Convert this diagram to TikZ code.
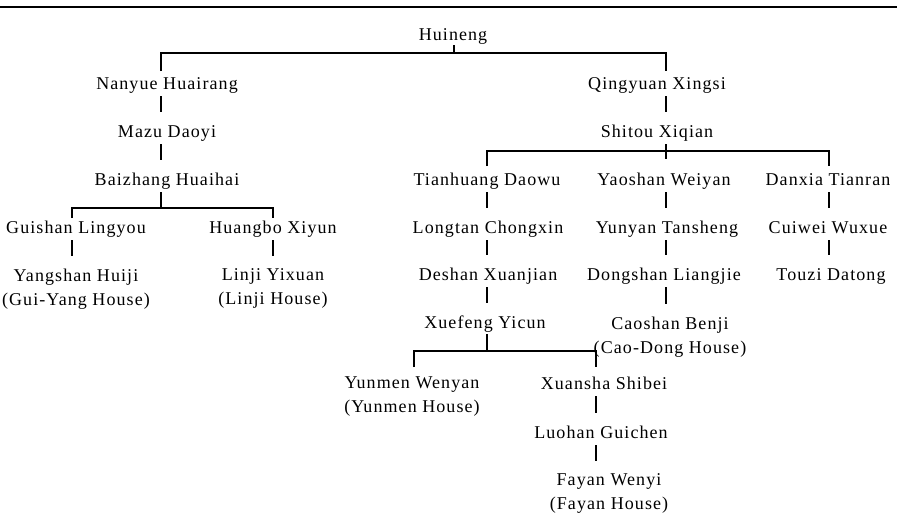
\documentclass[tikz,border=0pt]{standalone}
\usepackage{fontspec}
\setmainfont{Liberation Serif}[LetterSpace=6]
\begin{document}
\begin{tikzpicture}[x=0.75pt,y=-0.75pt,
  font=\fontsize{13.5}{18}\selectfont,
  nm/.style={inner sep=0pt, outer sep=0pt, anchor=north, text height=9pt, text depth=3.75pt},
  nmtwo/.style={inner sep=0pt, outer sep=0pt, anchor=north, align=center},
  wire/.style={line width=0.9pt, draw=black},
  linkv/.style={wire, shorten <=1.5pt, shorten >=9.75pt}]
\useasboundingbox (0,0) rectangle (897,526);
\draw[line width=1.1pt] (0,7) -- (897,7);
% columns
\coordinate (c72) at (72,0);
\coordinate (c161) at (161,0);
\coordinate (c273) at (273,0);
\coordinate (c414) at (414,0);
\coordinate (c487) at (487,0);
\coordinate (c596) at (596,0);
\coordinate (c666) at (666,0);
\coordinate (c829) at (829,0);
% bar junctions
\coordinate (hb) at (454,53);
\coordinate (bb) at (161,208);
\coordinate (sb) at (666,151);
\coordinate (xb) at (487,351);
% nodes
\node[nm] (hui) at (453,28) {Huineng};
\node[nm] (nan) at (167,77) {Nanyue Huairang};
\node[nm] (qing) at (657,77) {Qingyuan Xingsi};
\node[nm] (mazu) at (167,125) {Mazu Daoyi};
\node[nm] (shi) at (657,125) {Shitou Xiqian};
\node[nm] (bai) at (167,173) {Baizhang Huaihai};
\node[nm] (tian) at (487,173) {Tianhuang Daowu};
\node[nm] (yao) at (664,173) {Yaoshan Weiyan};
\node[nm] (dan) at (828,173) {Danxia Tianran};
\node[nm] (gui) at (76,221) {Guishan Lingyou};
\node[nm] (huang) at (273,221) {Huangbo Xiyun};
\node[nm] (long) at (488,221) {Longtan Chongxin};
\node[nm] (yun) at (667,221) {Yunyan Tansheng};
\node[nm] (cui) at (828,221) {Cuiwei Wuxue};
\node[nmtwo] (yang) at (76,269) {Yangshan Huiji\\(Gui-Yang House)};
\node[nmtwo] (linji) at (273,269) {Linji Yixuan\\(Linji House)};
\node[nm] (de) at (488,268) {Deshan Xuanjian};
\node[nm] (dong) at (664,268) {Dongshan Liangjie};
\node[nm] (tou) at (831,268) {Touzi Datong};
\node[nm] (xue) at (485,316) {Xuefeng Yicun};
\node[nmtwo] (cao) at (670,317) {Caoshan Benji\\(Cao-Dong House)};
\node[nmtwo] (ym) at (412,377) {Yunmen Wenyan\\(Yunmen House)};
\node[nm] (xuan) at (604,377) {Xuansha Shibei};
\node[nm] (luo) at (601,426) {Luohan Guichen};
\node[nmtwo] (fa) at (609,474) {Fayan Wenyi\\(Fayan House)};
% Huineng branch
\draw[wire] (hui.south -| hb) -- (hb);
\draw[wire, shorten <=4.5pt, shorten >=4.5pt] (nan.north -| c161) |- (hb) -| (qing.north -| c666);
% left lineage
\draw[linkv] (nan.south -| c161) -- (mazu.north -| c161);
\draw[linkv] (mazu.south -| c161) -- (bai.north -| c161);
\draw[wire, shorten <=1.5pt] (bai.south -| c161) -- (bb);
\draw[wire, shorten <=2.25pt, shorten >=2.25pt] (gui.north -| c72) |- (bb) -| (huang.north -| c273);
\draw[linkv] (gui.south -| c72) -- (yang.north -| c72);
\draw[linkv] (huang.south -| c273) -- (linji.north -| c273);
% right lineage
\draw[linkv] (qing.south -| c666) -- (shi.north -| c666);
\draw[linkv, shorten >=10.5pt] (shi.south -| c666) -- (yao.north -| c666);
\draw[wire, shorten <=5.25pt, shorten >=5.25pt] (tian.north -| c487) |- (sb) -| (dan.north -| c829);
\draw[linkv] (tian.south -| c487) -- (long.north -| c487);
\draw[linkv] (long.south -| c487) -- (de.north -| c487);
\draw[linkv] (de.south -| c487) -- (xue.north -| c487);
\draw[linkv] (yao.south -| c666) -- (yun.north -| c666);
\draw[linkv] (yun.south -| c666) -- (dong.north -| c666);
\draw[linkv] (dong.south -| c666) -- (cao.north -| c666);
\draw[linkv] (dan.south -| c829) -- (cui.north -| c829);
\draw[linkv] (cui.south -| c829) -- (tou.north -| c829);
\draw[wire, shorten <=0.75pt] (xue.south -| c487) -- (xb);
\draw[wire, shorten <=7.5pt, shorten >=7.5pt] (ym.north -| c414) |- (xb) -| (xuan.north -| c596);
\draw[linkv] (xuan.south -| c596) -- (luo.north -| c596);
\draw[linkv] (luo.south -| c596) -- (fa.north -| c596);
\end{tikzpicture}
\end{document}
